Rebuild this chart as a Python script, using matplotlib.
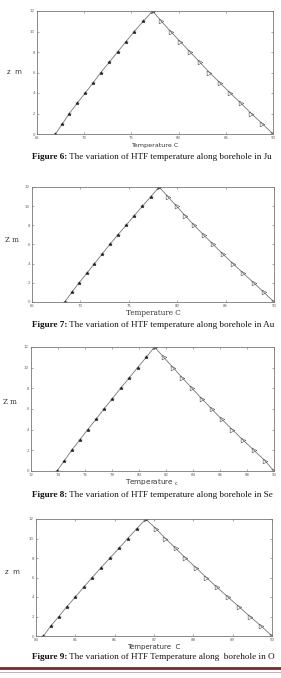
import numpy as np
import matplotlib.pyplot as plt
from matplotlib.lines import Line2D

# depth points (m)
z_up = [0, 1, 2, 3, 4, 5, 6, 7, 8, 9, 10, 11, 12]
z_down = [12, 11, 10, 9, 8, 7, 6, 5, 4, 3, 2, 1, 0]

# Figure 6
t6_up = [66.95, 67.69, 68.43, 69.25, 70.10, 70.95, 71.76, 72.65, 73.53, 74.42, 75.30, 76.26, 77.25]
t6_down = [77.25, 78.17, 79.16, 80.19, 81.22, 82.25, 83.27, 84.37, 85.47, 86.60, 87.70, 88.87, 90.0]
# Figure 7
t7_up = [68.38, 69.10, 69.86, 70.66, 71.45, 72.24, 73.03, 73.86, 74.72, 75.55, 76.41, 77.28, 78.14]
t7_down = [78.14, 79.03, 79.93, 80.83, 81.76, 82.72, 83.72, 84.72, 85.76, 86.83, 87.90, 88.97, 90.0]
# Figure 8
t8_up = [73.92, 74.47, 75.01, 75.60, 76.19, 76.81, 77.40, 78.02, 78.63, 79.27, 79.89, 80.53, 81.15]
t8_down = [81.15, 81.84, 82.53, 83.22, 83.93, 84.65, 85.39, 86.13, 86.92, 87.70, 88.52, 89.33, 90.0]
# Figure 9
t9_up = [84.19, 84.37, 84.58, 84.78, 85.00, 85.21, 85.43, 85.65, 85.88, 86.11, 86.33, 86.56, 86.79]
t9_down = [86.79, 87.05, 87.29, 87.55, 87.80, 88.07, 88.33, 88.60, 88.88, 89.16, 89.44, 89.73, 90.0]

xticks6 = [65, 70, 75, 80, 85, 90]
xticks7 = [65, 70, 75, 80, 85, 90]
xticks8 = [72, 74, 76, 78, 80, 82, 84, 86, 88, 90]
xticks9 = [84, 85, 86, 87, 88, 89, 90]
yticks = [0, 2, 4, 6, 8, 10, 12]

# captions as visible in the page crop
captions = [
    ("Figure 6:", " The variation of HTF temperature along borehole in Ju"),
    ("Figure 7:", " The variation of HTF temperature along borehole in Au"),
    ("Figure 8:", " The variation of HTF temperature along borehole in Se"),
    ("Figure 9:", " The variation of HTF Temperature along  borehole in O"),
]

W, H = 281, 678
fig = plt.figure(figsize=(W / 100, H / 100), dpi=100)
fig.patch.set_facecolor('white')

# axes boxes in pixels: left, top, right, bottom
boxes = [(37, 11, 273, 134), (32, 187, 274, 302), (31, 347, 274, 471), (36, 519, 272, 636)]
panels = [(t6_up, t6_down, xticks6), (t7_up, t7_down, xticks7),
          (t8_up, t8_down, xticks8), (t9_up, t9_down, xticks9)]
ylabels = [("z  m", 14, 72, 'sans-serif'), ("Z m", 12, 240, 'serif'),
           ("Z m", 10, 402, 'serif'), ("z  m", 12, 572, 'sans-serif')]
xlabels = [("Temperature C", 145, 'sans-serif', 4.6), ("Temperature C", 313, 'serif', 5.2),
           ("Temperature $_{\\mathrm{c}}$", 483, 'sans-serif', 5.2), ("Temperature  C", 647, 'sans-serif', 5.0)]
cap_y = [157, 325, 495, 657]

for i, (box, (tu, td, xt)) in enumerate(zip(boxes, panels)):
    l, t, r, b = box
    ax = fig.add_axes([l / W, 1 - b / H, (r - l) / W, (b - t) / H])
    ax.plot(tu, z_up, color='#777777', lw=0.6, marker='*', ms=2.6,
            mfc='#222222', mec='#222222', mew=0.4)
    ax.plot(td, z_down, color='#777777', lw=0.6, marker='>', ms=3.4,
            mfc='none', mec='#555555', mew=0.4)
    ax.set_xlim(xt[0], xt[-1])
    ax.set_ylim(0, 12)
    ax.set_xticks(xt)
    ax.set_yticks(yticks)
    ax.tick_params(direction='in', length=1.5, width=0.4, labelsize=2.8,
                   colors='#666666', pad=1.5, top=True, right=True)
    for s in ax.spines.values():
        s.set_color('#777777')
        s.set_linewidth(0.6)

    txt, x, y, fam = ylabels[i]
    fig.text(x / W, 1 - y / H, txt, fontsize=5, family=fam, color='#333333',
             ha='center', va='center')
    txt, y, fam, fs = xlabels[i]
    fig.text((l + r) / 2 / W, 1 - y / H, txt, fontsize=fs, family=fam, color='#333333',
             ha='center', va='center')

    bold, rest = captions[i]
    tb = fig.text(32 / W, 1 - cap_y[i] / H, bold, fontsize=6.6, family='Liberation Serif',
                  weight='bold', ha='left', va='center', color='#111111')
    fig.canvas.draw()
    bb = tb.get_window_extent()
    fig.text(bb.x1 / W, 1 - cap_y[i] / H, rest, fontsize=6.6, family='Liberation Serif',
             ha='left', va='center', color='#111111')

# page footer rule
fig.add_artist(Line2D([0, 1], [1 - 668 / H, 1 - 668 / H], color='#7a2a2a', lw=2.0))
fig.add_artist(Line2D([0, 1], [1 - 671.5 / H, 1 - 671.5 / H], color='#c9a0a0', lw=0.6))

fig.savefig('out.png', dpi=100)
